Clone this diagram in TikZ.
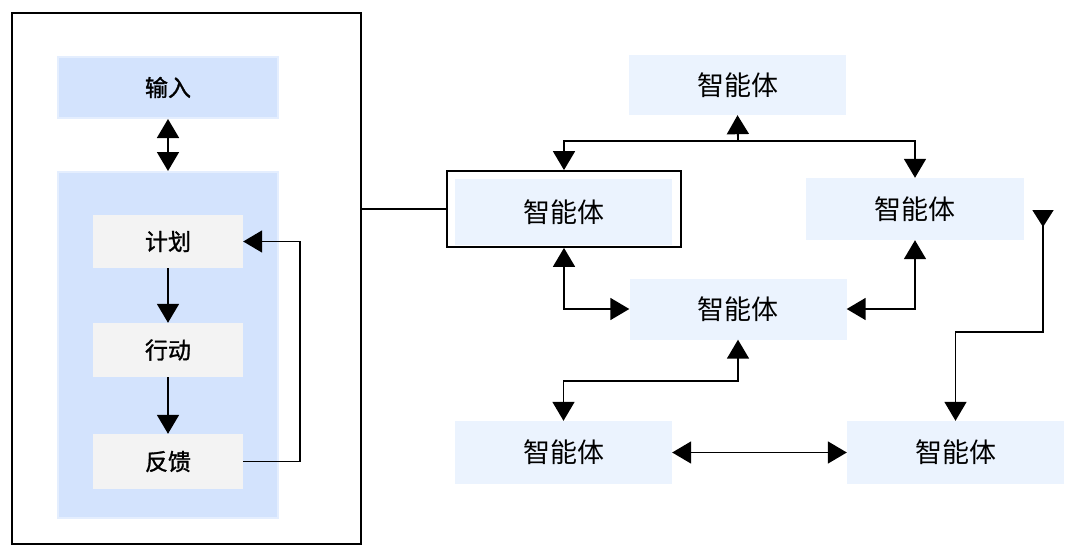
\documentclass[tikz,border=0pt]{standalone}
\usepackage{fontspec}
\setmainfont{Noto Sans CJK SC}
\newfontfamily\leftfont[FakeBold=1.2]{Noto Sans CJK SC}
\usetikzlibrary{arrows.meta}
\definecolor{coreblue}{HTML}{D3E3FD}
\definecolor{coreedge}{HTML}{E4EEFE}
\definecolor{stepgray}{HTML}{F3F3F3}
\definecolor{agentfill}{HTML}{EBF3FE}
\tikzset{
  line/.style={line width=1.8pt, black},
  tip/.tip={Triangle[length=19pt,width=22pt]},
  arr/.style={line, -tip},
  dbl/.style={line, tip-tip},
  corebox/.style={rectangle, fill=coreblue, draw=coreedge, line width=2pt, inner sep=0pt},
  stepbox/.style={rectangle, fill=stepgray, inner sep=0pt, minimum width=150pt, font=\leftfont\fontsize{23pt}{25pt}\selectfont},
  agent/.style={rectangle, fill=agentfill, inner sep=0pt, minimum width=217pt, minimum height=62pt, font=\fontsize{27pt}{29pt}\selectfont},
}
\begin{document}
\begin{tikzpicture}[x=1pt,y=-1pt]
\useasboundingbox (0,0) rectangle (1080,557);
% left panel
\node[draw=black, line width=1.8pt, minimum width=349pt, minimum height=531pt, inner sep=0pt] (outer) at (186.5,278.5) {};
\node[corebox, minimum width=220pt, minimum height=61pt, font=\leftfont\fontsize{23pt}{25pt}\selectfont] (inp) at (168,87.5) {输入};
\node[corebox, minimum width=220pt, minimum height=346pt] (core) at (168,345) {};
\node[stepbox, minimum height=53pt] (plan) at (168,241.5) {计划};
\node[stepbox, minimum height=54pt] (act) at (168,350) {行动};
\node[stepbox, minimum height=55pt] (fb) at (168,461.5) {反馈};
\draw[dbl] (inp.south) -- (core.north);
\draw[arr] (plan.south) -- (act.north);
\draw[arr] (act.south) -- (fb.north);
\draw[arr] (fb.east) -- ++(57,0) |- (plan.east);
% right agents
\node[draw=black, line width=1.8pt, minimum width=234pt, minimum height=76pt, inner sep=0pt] (a1f) at (564,209) {};
\node[agent, minimum height=66pt] (a1) at (563.5,212) {智能体};
\node[agent, minimum height=60pt] (atop) at (737.5,85) {智能体};
\node[agent, minimum width=218pt] (aright) at (915,209) {智能体};
\node[agent, minimum height=61pt] (amid) at (738,309) {智能体};
\node[agent, minimum height=63pt] (abl) at (563.5,452.5) {智能体};
\node[agent, minimum height=63pt] (abr) at (955.5,452.5) {智能体};
% connectors
\draw[line] (outer.east |- a1f.west) -- (a1f.west);
\coordinate (j) at (738,141);
\draw[arr] (j) -- (atop.south);
\draw[arr] (j) -| (a1f.north);
\draw[arr] (j) -| (aright.north);
\draw[dbl] (a1f.south) |- (amid.west);
\draw[dbl] (aright.south) |- (amid.east);
\draw[dbl] (amid.south) -- ++(0,41) -| (abl.north);
\draw[dbl] (abl.east) -- (abr.west);
\coordinate (rs) at (1043,210);
\draw[line, {Triangle[reversed,length=17pt,width=21pt]}-tip] (rs) -- ++(0,122) -| (abr.north);
\end{tikzpicture}
\end{document}
